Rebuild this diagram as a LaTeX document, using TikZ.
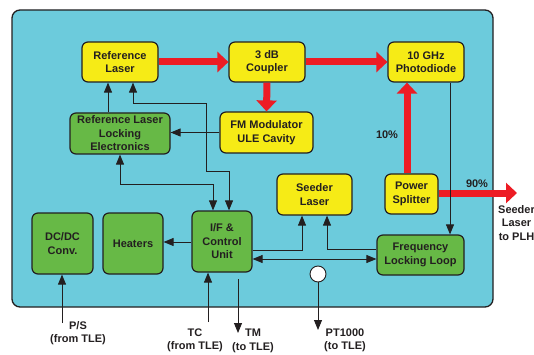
\documentclass[tikz,border=0pt]{standalone}
\usepackage{fontspec}
\setmainfont{Liberation Sans}
\usetikzlibrary{arrows.meta,calc}
\definecolor{panelc}{HTML}{6CCBDC}
\definecolor{yel}{HTML}{F6EB16}
\definecolor{grn}{HTML}{67B946}
\definecolor{redc}{HTML}{ED1C24}
\definecolor{ink}{HTML}{231F20}
\begin{document}
\begin{tikzpicture}[x=1pt,y=-1pt,
  every node/.style={font=\fontsize{11}{13.5}\selectfont\bfseries, text=ink, align=center, inner sep=0pt},
  ybox/.style={draw=ink, line width=1.2pt, rounded corners=6pt, fill=yel},
  gbox/.style={draw=ink, line width=1.2pt, rounded corners=6pt, fill=grn},
  redarr/.style={draw=redc, line width=7pt, -{Triangle[width=20pt,length=11pt]}},
  arr/.style={draw=ink, line width=0.9pt, -{Triangle[width=8pt,length=10pt]}},
  arrb/.style={draw=ink, line width=0.9pt, {Triangle[width=8pt,length=10pt]}-{Triangle[width=8pt,length=10pt]}}]
\useasboundingbox (0,0) rectangle (534,355);
\draw[draw=ink, line width=1.3pt, fill=panelc, rounded corners=8pt] (12,10) rectangle (493,307);

% boxes
\node[ybox, minimum width=76pt, minimum height=40pt] (rl) at (120,62) {Reference\\Laser};
\node[ybox, minimum width=76pt, minimum height=40pt] (cp) at (267,62) {3 dB\\Coupler};
\node[ybox, minimum width=76pt, minimum height=40pt] (pd) at (426,62) {10 GHz\\Photodiode};
\node[gbox, minimum width=100pt, minimum height=41pt] (rle) at (120,133.5) {Reference Laser\\Locking\\Electronics};
\node[ybox, minimum width=93pt, minimum height=41pt] (fm) at (266.5,132.5) {FM Modulator\\ULE Cavity};
\node[ybox, minimum width=75pt, minimum height=41pt] (sd) at (314.5,194.5) {Seeder\\Laser};
\node[ybox, minimum width=53pt, minimum height=40pt] (ps) at (411.5,194) {Power\\Splitter};
\node[gbox, minimum width=87pt, minimum height=40pt] (fll) at (420.5,255) {Frequency\\Locking Loop};
\node[gbox, minimum width=60pt, minimum height=61pt] (if) at (222,241.5) {I/F \&\\Control\\Unit};
\node[gbox, minimum width=60pt, minimum height=61pt] (ht) at (133,243.5) {Heaters};
\node[gbox, minimum width=61pt, minimum height=61pt] (dc) at (62.5,243.5) {DC/DC\\Conv.};
\node[circle, draw=ink, line width=0.9pt, fill=white, minimum size=16pt] (pt) at (318,274) {};

% labels
\node (l10) at (387,135) {10\%};
\node (l90) at (477,184) {90\%};
\node (lout) at (516.5,223) {Seeder\\Laser\\to PLH};
\node (lps) at (78,333) {P/S\\(from TLE)};
\node (ltc) at (195,340.5) {TC\\(from TLE)};
\node (ltm) at (253,341) {TM\\(to TLE)};
\node (lpt) at (345,340.5) {PT1000\\(to TLE)};

% free ends
\coordinate (out) at (517,193);
\coordinate (psin) at (62,323);
\coordinate (tcin) at (208,322);
\coordinate (tmst) at (238,279);
\coordinate (tmend) at (238,333);
\coordinate (ptend) at (318,330);

% red arrows
\draw[redarr] (rl.east) -- (cp.west);
\draw[redarr] (cp.east) -- (pd.west);
\draw[redarr] (cp.south) -- (fm.north);
\draw[redarr] ([xshift=-4.5pt]ps.north) -- ([xshift=-4.5pt]ps.north |- pd.south);
\draw[redarr] ([yshift=1pt]ps.east) -- (out);

% thin connectors
\draw[arr] ([xshift=-12pt]rle.north) -- ([xshift=-12pt]rl.south);
\draw[arrb] ([xshift=13pt]rl.south) |- (206,103) |- (229,171) -- ([xshift=7pt]if.north);
\draw[arrb] (rle.south) |- (213,184) -- ([xshift=-9pt]if.north);
\draw[arr] (fm.west) -- (fm.west -| rle.east);
\draw[arr] ([yshift=-0.5pt]if.west) -- ([yshift=-0.5pt]if.west -| ht.east);
\draw[arr] ([yshift=-8.5pt]if.east) -| ([xshift=-12.5pt]sd.south);
\draw[arr] ([yshift=6pt]fll.west) -| ([xshift=12.5pt]sd.south);
\draw[arrb] ([yshift=-17.5pt]if.east) -- ([yshift=-17.5pt]if.east -| fll.west);
\draw[arr] ([xshift=24pt]pd.south) -- ([xshift=24pt]pd.south |- fll.north);
\draw[arr] (psin) -- (psin |- dc.south);
\draw[arr] (tcin) -- (tcin |- if.south);
\draw[arr] (tmst) -- (tmend);
\draw[arr] (pt.south) -- (ptend);
\end{tikzpicture}
\end{document}
